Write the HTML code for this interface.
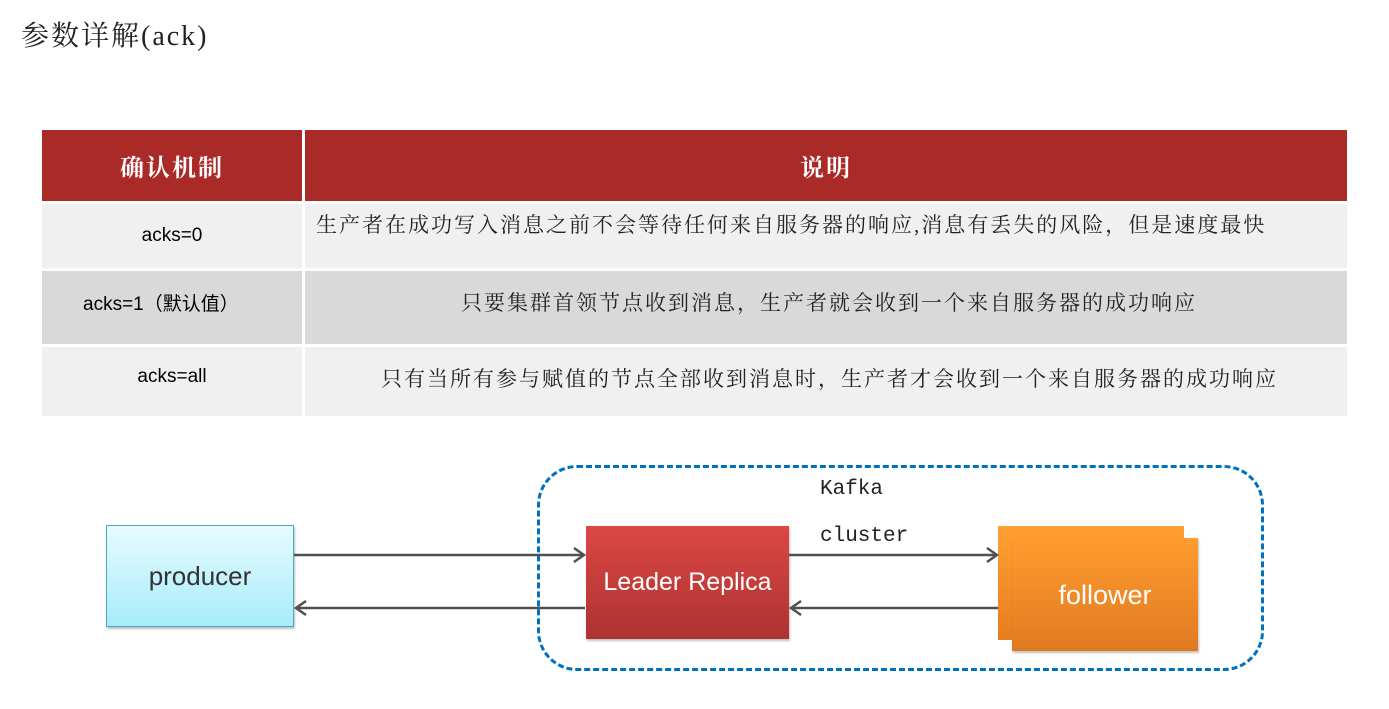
<!DOCTYPE html>
<html><head><meta charset="utf-8"><style>
body{margin:0;width:1389px;height:709px;background:#fff;position:relative;overflow:hidden;font-family:"Liberation Serif","Noto Serif CJK SC",serif}
.a{position:absolute}
.c{display:flex;align-items:center;justify-content:center}
.cell{position:absolute;font-size:21px;letter-spacing:2px;color:#222;white-space:nowrap}
.l{font-family:"Liberation Sans","Noto Sans CJK SC",sans-serif;color:#000;font-size:19px}
</style></head><body>
<div class="a" style="left:21px;top:14px;font-size:28px;letter-spacing:2px;color:#222">参数详解(ack)</div>

<div class="a c" style="left:42px;top:130px;width:260px;height:71px;background:#a92a27;color:#fff;font-size:24px;letter-spacing:2px;font-weight:bold">确认机制</div>
<div class="a c" style="left:305px;top:130px;width:1042px;height:71px;background:#a92a27;color:#fff;font-size:24px;letter-spacing:2px;font-weight:bold">说明</div>

<div class="a c l" style="left:42px;top:204px;width:260px;height:64px;background:#f0f0f0">acks=0</div>
<div class="a" style="left:305px;top:204px;width:1042px;height:64px;background:#f0f0f0"></div>
<div class="cell" style="left:316px;top:209px">生产者在成功写入消息之前不会等待任何来自服务器的响应,消息有丢失的风险，但是速度最快</div>

<div class="a c l" style="left:42px;top:271px;width:260px;height:73px;background:#d9d9d9;justify-content:flex-start;padding-left:41px;box-sizing:border-box;align-items:flex-start;padding-top:18px">acks=1（默认值）</div>
<div class="a" style="left:305px;top:271px;width:1042px;height:73px;background:#d9d9d9"></div>
<div class="cell" style="left:461px;top:287px">只要集群首领节点收到消息，生产者就会收到一个来自服务器的成功响应</div>

<div class="a c l" style="left:42px;top:347px;width:260px;height:69px;background:#f0f0f0;align-items:flex-start;padding-top:19px;box-sizing:border-box">acks=all</div>
<div class="a" style="left:305px;top:347px;width:1042px;height:69px;background:#f0f0f0"></div>
<div class="cell" style="left:381px;top:363px">只有当所有参与赋值的节点全部收到消息时，生产者才会收到一个来自服务器的成功响应</div>

<div class="a" style="left:537px;top:465px;width:721px;height:200px;border:3px dashed #0070c0;border-radius:40px"></div>
<div class="a" style="left:820px;top:478px;font-family:'Liberation Mono',monospace;font-size:21px;color:#222">Kafka</div>
<div class="a" style="left:820px;top:525px;font-family:'Liberation Mono',monospace;font-size:21px;color:#222">cluster</div>

<div class="a c" style="left:106px;top:525px;width:186px;height:100px;border:1px solid #4aa8c0;background:linear-gradient(#e6fbff,#a8ecfb);font-family:'Liberation Sans',sans-serif;font-size:26px;color:#333;box-shadow:1px 2px 2px rgba(0,0,0,.25)">producer</div>
<div class="a c" style="left:586px;top:526px;width:203px;height:113px;background:linear-gradient(#dc4744,#ac3332);font-family:'Liberation Sans',sans-serif;font-size:25px;color:#fff;box-shadow:1px 2px 2px rgba(0,0,0,.25)">Leader Replica</div>
<div class="a" style="left:998px;top:526px;width:186px;height:114px;background:linear-gradient(#ffa033,#e87d20)"></div>
<div class="a c" style="left:1012px;top:538px;width:186px;height:113px;background:linear-gradient(#ff9c2e,#e07a22);font-family:'Liberation Sans',sans-serif;font-size:27px;color:#fff;box-shadow:1px 2px 2px rgba(0,0,0,.25);padding-top:2px;box-sizing:border-box">follower</div>

<svg class="a" style="left:0;top:0" width="1389" height="709">
<g stroke="#505050" stroke-width="2.5" fill="none">
<line x1="294" y1="555" x2="583" y2="555"/><polyline points="574,548 584,555 574,562"/>
<line x1="585" y1="608" x2="297" y2="608"/><polyline points="306,601 296,608 306,615"/>
<line x1="789" y1="555" x2="996" y2="555"/><polyline points="987,548 997,555 987,562"/>
<line x1="998" y1="608" x2="792" y2="608"/><polyline points="801,601 791,608 801,615"/>
</g></svg>
</body></html>
